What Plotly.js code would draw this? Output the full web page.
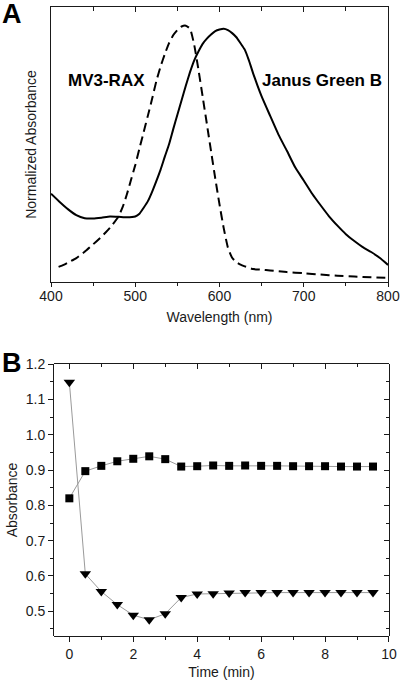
<!DOCTYPE html>
<html>
<head>
<meta charset="utf-8">
<script src="https://cdn.plot.ly/plotly-3.0.1.min.js"></script>
<style>
  html, body { margin: 0; padding: 0; background: #fff; }
  #chart { width: 400px; height: 680px; }
</style>
</head>
<body>
<div id="chart"></div>
<script>
// ---------- Panel A: normalized absorbance spectra ----------
const wavelengthJGB = [400,410,420,430,440,450,460,470,480,490,500,505,510,515,520,525,530,535,540,545,550,555,560,565,570,575,580,585,590,595,600,605,610,615,620,625,630,635,640,645,650,660,670,680,690,700,710,720,730,740,750,760,770,780,790,800];
const absJGB = [0.321,0.292,0.265,0.243,0.232,0.231,0.234,0.238,0.237,0.235,0.238,0.248,0.270,0.294,0.328,0.367,0.408,0.455,0.500,0.555,0.608,0.661,0.714,0.763,0.806,0.838,0.866,0.885,0.900,0.912,0.918,0.921,0.916,0.905,0.890,0.868,0.845,0.805,0.758,0.715,0.675,0.605,0.536,0.477,0.416,0.369,0.321,0.279,0.239,0.205,0.174,0.149,0.127,0.109,0.088,0.062];

const wavelengthMV3 = [409,415,420,430,440,450,460,470,480,485,490,495,500,505,510,515,520,525,530,535,540,545,550,555,560,565,570,575,580,585,590,595,600,605,610,615,620,625,630,640,650,660,680,700,720,740,760,780,800];
const absMV3 = [0.055,0.062,0.070,0.087,0.110,0.137,0.165,0.197,0.238,0.272,0.318,0.372,0.425,0.486,0.545,0.605,0.666,0.730,0.783,0.828,0.868,0.897,0.916,0.929,0.932,0.921,0.862,0.772,0.674,0.575,0.475,0.376,0.282,0.196,0.125,0.088,0.072,0.063,0.057,0.047,0.045,0.042,0.036,0.032,0.027,0.023,0.020,0.017,0.015];

const labelJGB = 'Janus Green B';
const labelMV3 = 'MV3-RAX';

// ---------- Panel B: absorbance vs time ----------
const timeMin = [0,0.5,1,1.5,2,2.5,3,3.5,4,4.5,5,5.5,6,6.5,7,7.5,8,8.5,9,9.5];
const absSquares = [0.820,0.897,0.912,0.925,0.932,0.939,0.931,0.910,0.911,0.913,0.912,0.913,0.912,0.912,0.911,0.911,0.911,0.910,0.910,0.910];
const absTriangles = [1.149,0.606,0.556,0.519,0.489,0.476,0.493,0.539,0.549,0.550,0.552,0.553,0.553,0.553,0.553,0.553,0.553,0.553,0.553,0.553];

const FONT = 'Arial, "Liberation Sans", Helvetica, sans-serif';
const INK = '#1a1a1a';

// Extra axes (x3, x4, y3) share the domains of the main axes and carry the
// mirrored inward ticks on top / right; traces are attached to them.
const traces = [
  { x: wavelengthJGB, y: absJGB, xaxis: 'x', yaxis: 'y', type: 'scatter', mode: 'lines',
    name: labelJGB, line: { color: '#000', width: 2, shape: 'spline', smoothing: 0.5 }, hoverinfo: 'skip' },
  { x: wavelengthMV3, y: absMV3, xaxis: 'x3', yaxis: 'y', type: 'scatter', mode: 'lines',
    name: labelMV3, line: { color: '#000', width: 2, dash: '9px,5px', shape: 'spline', smoothing: 0.5 }, hoverinfo: 'skip' },
  { x: timeMin, y: absSquares, xaxis: 'x4', yaxis: 'y2', type: 'scatter', mode: 'lines+markers',
    name: 'squares', line: { color: '#9a9a9a', width: 1 },
    marker: { symbol: 'square', size: 8, color: '#000' }, hoverinfo: 'skip' },
  { x: timeMin, y: absTriangles, xaxis: 'x2', yaxis: 'y3', type: 'scatter', mode: 'lines+markers',
    name: 'triangles', line: { color: '#9a9a9a', width: 1 },
    marker: { symbol: 'triangle-down', size: 10, color: '#000' }, hoverinfo: 'skip' }
];

const baseAx = {
  showgrid: false, zeroline: false, linecolor: INK, linewidth: 1, tickcolor: INK, tickwidth: 1
};

const domAx = [0.1275, 0.97], domAy = [0.5853, 0.9897];
const domBx = [0.135, 0.9725], domBy = [0.0647, 0.4647];

const layout = {
  width: 400, height: 680,
  margin: { l: 0, r: 0, t: 0, b: 0 },
  paper_bgcolor: '#fff', plot_bgcolor: 'rgba(0,0,0,0)',
  showlegend: false,
  font: { family: FONT, size: 14, color: INK },
  // Panel A
  xaxis: Object.assign({}, baseAx, {
    domain: domAx.slice(), anchor: 'y', range: [400, 800],
    tick0: 400, dtick: 100, ticks: 'outside', ticklen: 4,
    minor: { dtick: 50, ticks: 'outside', ticklen: 3, tickcolor: INK },
    showline: true, mirror: true, ticklabelstandoff: -3,
    title: { text: 'Wavelength (nm)', font: { size: 14 }, standoff: 9 }
  }),
  xaxis3: Object.assign({}, baseAx, {
    domain: domAx.slice(), anchor: 'y', side: 'top', range: [400, 800],
    tick0: 400, dtick: 100, ticks: 'inside', ticklen: 5,
    minor: { dtick: 50, ticks: 'inside', ticklen: 4, tickcolor: INK },
    showline: false, showticklabels: false
  }),
  yaxis: Object.assign({}, baseAx, {
    domain: domAy.slice(), anchor: 'x', range: [0, 1],
    showticklabels: false, ticks: '', showline: true, mirror: true,
    title: { text: 'Normalized Absorbance', font: { size: 14 }, standoff: 10 }
  }),
  // Panel B
  xaxis2: Object.assign({}, baseAx, {
    domain: domBx.slice(), anchor: 'y2', range: [-0.48, 10.001],
    tick0: 0, dtick: 2, ticks: 'outside', ticklen: 5,
    minor: { dtick: 1, ticks: 'outside', ticklen: 3, tickcolor: INK },
    showline: true, mirror: true,
    title: { text: 'Time (min)', font: { size: 14 }, standoff: 10 }
  }),
  xaxis4: Object.assign({}, baseAx, {
    domain: domBx.slice(), anchor: 'y2', side: 'top', range: [-0.48, 10.001],
    tick0: 0, dtick: 2, ticks: 'inside', ticklen: 5,
    minor: { dtick: 1, ticks: 'inside', ticklen: 3, tickcolor: INK },
    showline: false, showticklabels: false
  }),
  yaxis2: Object.assign({}, baseAx, {
    domain: domBy.slice(), anchor: 'x2', range: [0.43, 1.2005],
    tick0: 0.5, dtick: 0.1, tickformat: '.1f', ticks: 'outside', ticklen: 5,
    minor: { dtick: 0.05, ticks: 'outside', ticklen: 3, tickcolor: INK },
    showline: true, mirror: true,
    title: { text: 'Absorbance', font: { size: 14 }, standoff: 4 }
  }),
  yaxis3: Object.assign({}, baseAx, {
    domain: domBy.slice(), anchor: 'x2', side: 'right', range: [0.43, 1.2005],
    tick0: 0.5, dtick: 0.1, ticks: 'inside', ticklen: 5,
    minor: { dtick: 0.05, ticks: 'inside', ticklen: 3, tickcolor: INK },
    showline: false, showticklabels: false
  }),
  annotations: [
    { text: 'A', xref: 'paper', yref: 'paper', x: 0, y: 1 - 14 / 680, xanchor: 'left', yanchor: 'middle',
      showarrow: false, font: { size: 27, weight: 700, color: '#000' } },
    { text: 'B', xref: 'paper', yref: 'paper', x: 0, y: 1 - 363 / 680, xanchor: 'left', yanchor: 'middle',
      showarrow: false, font: { size: 27, weight: 700, color: '#000' } },
    { text: labelMV3, xref: 'x', yref: 'y', x: 466, y: 0.733, xanchor: 'center', yanchor: 'middle',
      showarrow: false, font: { size: 17, weight: 700, color: '#000' } },
    { text: labelJGB, xref: 'x', yref: 'y', x: 722, y: 0.733, xanchor: 'center', yanchor: 'middle',
      showarrow: false, font: { size: 17, weight: 700, color: '#000' } }
  ]
};

Plotly.newPlot('chart', traces, layout, { staticPlot: true, displayModeBar: false });
</script>
</body>
</html>
